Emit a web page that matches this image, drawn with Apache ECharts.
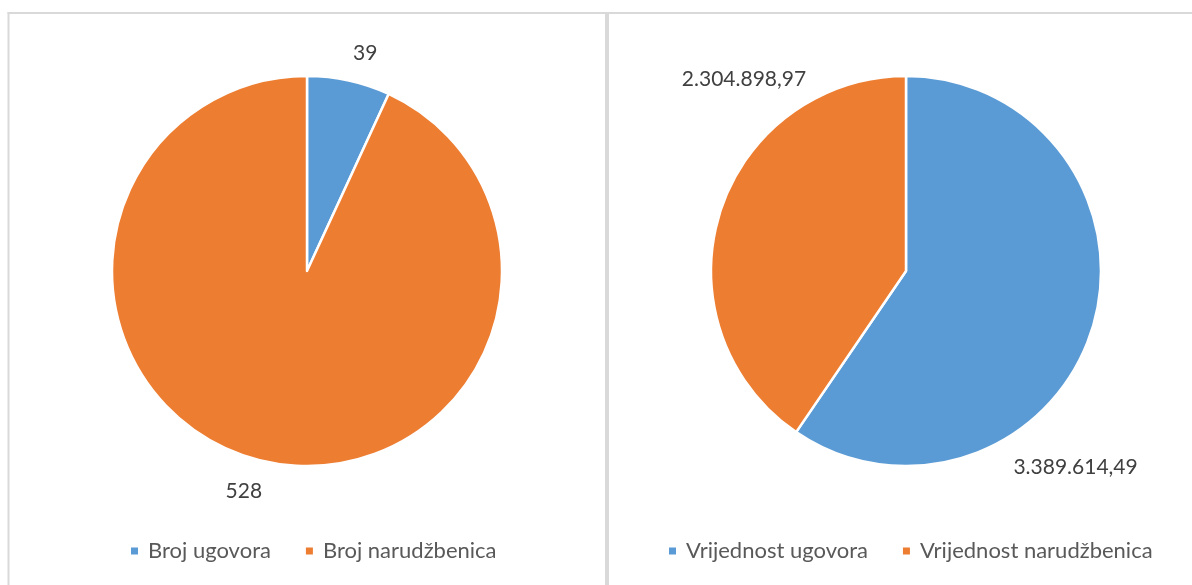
<!DOCTYPE html>
<html>
<head>
<meta charset="utf-8">
<script src="https://cdn.jsdelivr.net/npm/echarts@6/dist/echarts.min.js"></script>
<style>
  html, body { margin: 0; padding: 0; background: #ffffff; }
  #chart { width: 1192px; height: 585px; }
</style>
</head>
<body>
<div id="chart"></div>
<script>
// ---- data ----
const countNames = ['Broj ugovora', 'Broj narudžbenica'];
const countValues = [39, 528];
const countLabels = ['39', '528'];

const valueNames = ['Vrijednost ugovora', 'Vrijednost narudžbenica'];
const valueValues = [3389614.49, 2304898.97];
const valueLabels = ['3.389.614,49', '2.304.898,97'];

const colors = ['#5b9bd5', '#ed7d31'];

// ---- layout (not data) ----
const FONT = 'Lato, "Open Sans", sans-serif';
const R = 195;
const centers = [[307, 271], [906, 271]];
// label placement: [angle in degrees clockwise from 12 o'clock, distance from centre]
const labelPlacement = [
  [[15.0, 225], [196.0, 229]],
  [[139.1, 259], [319.8, 251]]
];

const chart = echarts.init(document.getElementById('chart'), null, { renderer: 'canvas' });

function makeData(names, values) {
  return names.map((n, i) => ({ name: n, value: values[i], itemStyle: { color: colors[i] } }));
}

function pieSeries(idx, names, values, labels) {
  return {
    type: 'pie',
    center: centers[idx],
    radius: R,
    startAngle: 90,
    clockwise: true,
    avoidLabelOverlap: false,
    silent: true,
    data: makeData(names, values),
    itemStyle: { borderColor: '#ffffff', borderWidth: 2.5 },
    label: {
      show: true,
      position: 'outside',
      formatter: (p) => labels[p.dataIndex],
      fontFamily: FONT,
      fontSize: 21,
      color: '#404040'
    },
    labelLine: { show: false },
    labelLayout: (p) => {
      const pl = labelPlacement[idx][p.dataIndex];
      const a = pl[0] * Math.PI / 180;
      return {
        x: centers[idx][0] + pl[1] * Math.sin(a),
        y: centers[idx][1] - pl[1] * Math.cos(a),
        align: 'center',
        verticalAlign: 'middle'
      };
    },
    emphasis: { disabled: true }
  };
}

function legendCfg(names, left) {
  return {
    data: names,
    left: left,
    top: 540,
    padding: 0,
    icon: 'rect',
    itemWidth: 9,
    itemHeight: 9,
    itemGap: 33,
    selectedMode: false,
    textStyle: {
      fontFamily: FONT,
      fontSize: 22,
      color: '#595959',
      padding: [0, 0, 0, 4]
    }
  };
}

const borderColor = '#d9d9d9';

chart.setOption({
  backgroundColor: '#ffffff',
  animation: false,
  legend: [legendCfg(countNames, 129), legendCfg(valueNames, 667)],
  series: [
    pieSeries(0, countNames, countValues, countLabels),
    pieSeries(1, valueNames, valueValues, valueLabels)
  ],
  graphic: [
    { type: 'rect', shape: { x: 7.5, y: 12, width: 1192, height: 2 }, style: { fill: borderColor }, silent: true },
    { type: 'rect', shape: { x: 7.5, y: 12, width: 2, height: 600 }, style: { fill: borderColor }, silent: true },
    { type: 'rect', shape: { x: 605, y: 12, width: 4, height: 600 }, style: { fill: borderColor }, silent: true }
  ]
});
</script>
</body>
</html>
